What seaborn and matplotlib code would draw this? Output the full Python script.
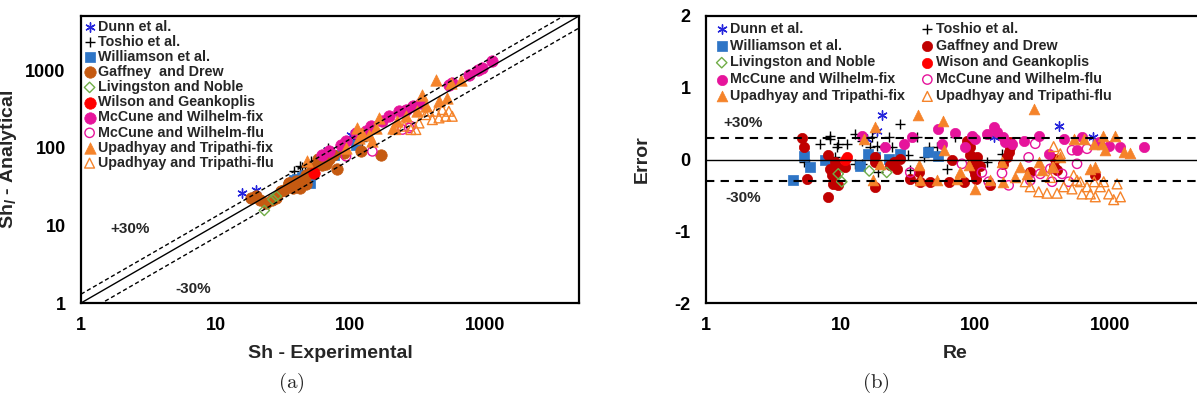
import numpy as np
import pandas as pd
import matplotlib
matplotlib.use("Agg")
import matplotlib.pyplot as plt
import seaborn as sns

# ---------------- Panel (a): Sh experimental vs Sh analytical ----------------
a_dunn_x = [15.8, 20, 68, 101, 110]
a_dunn_y = [25.8, 28.2, 95, 148, 135]
a_toshio_x = [42, 46, 51, 68, 70, 110, 123, 38, 44]
a_toshio_y = [58, 58, 67, 100, 90, 134, 122, 50, 56]
a_will_x = [50, 46, 76, 110, 40, 44, 38]
a_will_y = [35, 45, 82, 110, 40, 42, 38]
a_gaff_x = [169, 80, 66, 59, 53, 47, 42, 35, 32, 70, 18.4, 21.2, 23.7, 28.2, 30.7, 35.3,
            39.6, 47, 37.4, 20, 26, 44, 62, 75, 90, 120, 58, 50]
a_gaff_y = [82, 53, 61, 67, 55, 45, 30, 35, 29, 71, 22.7, 21.0, 19.5, 22.7, 27.6, 35.3,
            37.2, 33.7, 30.5, 23.8, 21.5, 38, 60, 80, 85, 90, 72, 48]
a_liv_x = [23, 28.2, 26.6]
a_liv_y = [15.6, 23.8, 21.6]
a_wil_x = [54]
a_wil_y = [48]
a_mcfix_x = [1133, 955, 887, 760, 569, 540, 334, 290, 259, 231, 195, 173, 142, 131, 110,
             93, 85, 62, 70]
a_mcfix_y = [1302, 1069, 1016, 878, 684, 652, 378, 343, 311, 296, 255, 220, 190, 164, 156,
             122, 110, 82, 90]
a_mcflu_x = [93, 146, 244, 274, 282]
a_mcflu_y = [78, 90, 172, 180, 190]
a_upfix_x = [431, 557, 661, 526, 456, 343, 315, 363, 259, 224, 206, 164, 155, 123, 117,
             93, 113, 138, 48, 146]
a_upfix_y = [757, 684, 757, 439, 398, 485, 296, 343, 255, 220, 180, 243, 180, 156, 134,
             100, 180, 148, 67, 122]
a_upflu_x = [572, 511, 456, 407, 363, 307, 282, 385, 431, 483, 324, 218, 251, 540]
a_upflu_y = [255, 255, 243, 231, 268, 172, 172, 296, 296, 311, 209, 172, 190, 296]

# ---------------- Panel (b): Re vs error ----------------
b_dunn_re = [20.2, 18.6, 15.7, 137, 417, 745]
b_dunn_err = [0.62, 0.40, 0.29, 0.31, 0.46, 0.32]
b_toshio_re = [5.3, 5.8, 7.0, 8.4, 8.4, 9.4, 9.6, 11.1, 9.1, 12.7, 14.4, 16.6, 17.1, 18.6,
               20.8, 19.1, 22.7, 24.0, 27.7, 26.2, 31.9, 32.9, 36.8, 41.3, 45.0, 51.9,
               61.5, 71.0, 158, 122, 12.8, 14.4]
b_toshio_err = [-0.04, -0.06, 0.21, 0.33, 0.29, 0.17, 0.21, 0.21, 0.03, 0.36, 0.26, 0.17,
                0.31, 0.19, 0.17, -0.18, 0.31, 0.17, 0.50, 0.03, 0.06, -0.14, 0.31, 0.04,
                0.17, 0.17, -0.13, 0.31, 0.08, -0.04, -0.06, -0.06]
b_will_re = [4.4, 5.3, 5.9, 7.7, 14.0, 16.1, 18.1, 22.7, 27.7, 44.2, 52.5]
b_will_err = [-0.28, 0.05, -0.11, -0.01, -0.09, 0.08, 0.04, 0.01, 0.08, 0.10, 0.05]
b_gaff_re = [5.2, 5.3, 5.6, 8.1, 8.1, 8.4, 8.7, 8.8, 9.1, 9.1, 9.4, 9.6, 10.8, 18.1, 18.1,
             18.1, 23.1, 24.7, 26.2, 27.7, 32.9, 37.9, 39.0, 45.8, 63.3, 67.0, 81.9, 86.7,
             91.8, 91.8, 94.5, 94.5, 97.2, 100, 102, 103, 109, 129, 162, 172, 177, 182,
             182, 256, 382, 393, 405, 771]
b_gaff_err = [0.30, 0.17, -0.27, 0.06, -0.52, -0.13, -0.22, -0.34, -0.20, -0.04, -0.10,
              -0.36, -0.11, 0.03, -0.04, -0.39, -0.07, -0.03, -0.13, 0.01, -0.27, -0.18,
              -0.31, -0.31, -0.31, -0.01, -0.31, 0.26, 0.17, 0.06, 0.03, -0.06, -0.15,
              -0.20, -0.27, 0.03, -0.09, -0.36, -0.06, 0.03, 0.10, 0.17, 0.24, -0.18,
              -0.11, 0.01, -0.15, -0.22]
b_liv_re = [9.6, 10.2, 16.3, 22.0]
b_liv_err = [-0.20, -0.31, -0.16, -0.18]
b_wil_re = [11.1, 10.7]
b_wil_err = [0.03, -0.01]
b_mcfix_re = [14.4, 21.4, 29.7, 33.8, 52.5, 56.5, 71.0, 84.2, 94.5, 100, 122, 137, 145,
              162, 167, 188, 229, 296, 351, 454, 570, 621, 826, 980, 1197, 1803]
b_mcfix_err = [0.33, 0.17, 0.22, 0.31, 0.43, 0.22, 0.37, 0.17, 0.33, 0.29, 0.36, 0.45, 0.38,
               0.31, 0.24, 0.22, 0.26, 0.33, 0.08, 0.29, 0.13, 0.32, 0.24, 0.19, 0.17, 0.17]
b_mcflu_re = [32.9, 79.6, 112, 126, 158, 177, 249, 256, 279, 304, 361, 372, 441, 494, 523,
              570, 676]
b_mcflu_err = [-0.18, -0.06, -0.18, -0.31, -0.19, -0.36, 0.03, -0.29, 0.22, -0.20, -0.13,
               -0.31, -0.20, -0.31, 0.13, -0.06, 0.15]
b_upfix_re = [14.8, 18.1, 17.5, 19.7, 37.5, 37.9, 39.0, 57.2, 58.2, 51.9, 73.1, 77.3, 89.2,
              100, 129, 158, 216, 271, 296, 313, 372, 428, 538, 640, 716, 779, 889, 927,
              1099, 1268, 1404, 874, 765, 162, 198, 242]
b_upfix_err = [0.29, 0.45, -0.28, -0.06, 0.62, -0.08, -0.29, 0.54, 0.13, -0.29, -0.27,
               -0.18, -0.08, -0.41, -0.29, -0.04, -0.11, 0.71, -0.04, -0.15, -0.11, 0.03,
               0.29, 0.29, -0.13, -0.11, 0.33, 0.13, 0.33, 0.10, 0.09, 0.22, 0.22, -0.31,
               -0.25, -0.20]
b_upflu_re = [382, 428, 361, 296, 341, 405, 454, 523, 570, 621, 676, 716, 779, 849, 899,
              980, 1067, 1197, 1131, 256, 235, 538, 382, 765, 604]
b_upflu_err = [0.18, 0.08, -0.25, -0.45, -0.47, -0.47, -0.38, -0.41, -0.29, -0.48, -0.38,
               -0.48, -0.52, -0.38, -0.31, -0.48, -0.56, -0.52, -0.34, -0.38, -0.31, -0.22,
               -0.11, -0.31, -0.31]

# ---------------- Styling ----------------
sns.set_theme(style="white")
plt.rcParams["font.family"] = ["Liberation Sans", "DejaVu Sans"]
plt.rcParams["font.weight"] = "bold"
plt.rcParams["axes.labelweight"] = "bold"
plt.rcParams["mathtext.fontset"] = "custom"
plt.rcParams["mathtext.rm"] = "Liberation Sans:bold"
plt.rcParams["mathtext.it"] = "Liberation Sans:italic"
plt.rcParams["mathtext.bf"] = "Liberation Sans:bold"

BLUE_D = "#2424DC"
BLUE_S = "#2E75C6"
BROWN = "#C55A11"
DRED = "#C00000"
GREEN = "#70AD47"
RED = "#FF0000"
MAG = "#E6149B"
ORG = "#F5832A"

fig = plt.figure(figsize=(11.97, 4.01), dpi=100)
W, H = 1197, 401
ax1 = fig.add_axes([81 / W, (H - 303) / H, 498 / W, 287 / H])
ax2 = fig.add_axes([706 / W, (H - 303) / H, 498 / W, 287 / H])

ast = (6, 2, 0)


def series(ax, x, y, label, marker, color, s, hollow=False, lw=1.0):
    df = pd.DataFrame({"x": x, "y": y})
    if hollow:
        sns.scatterplot(data=df, x="x", y="y", ax=ax, marker=marker, s=s,
                        facecolor="none", edgecolor=color, linewidth=lw, label=label)
    elif marker in ("+", ast):
        sns.scatterplot(data=df, x="x", y="y", ax=ax, marker=marker, s=s,
                        color=color, linewidth=lw, label=label)
    else:
        sns.scatterplot(data=df, x="x", y="y", ax=ax, marker=marker, s=s,
                        color=color, edgecolor=color, linewidth=0.5, label=label)


# Panel (a)
series(ax1, a_dunn_x, a_dunn_y, "Dunn et al.", ast, BLUE_D, 45)
series(ax1, a_toshio_x, a_toshio_y, "Toshio et al.", "+", "black", 50)
series(ax1, a_will_x, a_will_y, "Williamson et al.", "s", BLUE_S, 55)
series(ax1, a_gaff_x, a_gaff_y, "Gaffney  and Drew", "o", BROWN, 68)
series(ax1, a_liv_x, a_liv_y, "Livingston and Noble", "D", GREEN, 28, hollow=True)
series(ax1, a_wil_x, a_wil_y, "Wilson and Geankoplis", "o", RED, 68)
series(ax1, a_mcfix_x, a_mcfix_y, "McCune and Wilhelm-fix", "o", MAG, 68)
series(ax1, a_mcflu_x, a_mcflu_y, "McCune and Wilhelm-flu", "o", MAG, 45, hollow=True)
series(ax1, a_upfix_x, a_upfix_y, "Upadhyay and Tripathi-fix", "^", ORG, 68)
series(ax1, a_upflu_x, a_upflu_y, "Upadhyay and Tripathi-flu", "^", ORG, 50, hollow=True)

xr = np.array([1.0, 5000.0])
ax1.plot(xr, xr, color="black", lw=1.0, zorder=1)
ax1.plot(xr, 1.3 * xr, color="black", lw=1.0, ls=(0, (3, 2)), zorder=1)
ax1.plot(xr, 0.7 * xr, color="black", lw=1.0, ls=(0, (3, 2)), zorder=1)

ax1.set_xscale("log")
ax1.set_yscale("log")
ax1.set_xlim(1, 5000)
ax1.set_ylim(1, 5000)
ax1.set_xticks([1, 10, 100, 1000])
ax1.set_xticklabels(["1", "10", "100", "1000"])
ax1.set_yticks([1, 10, 100, 1000])
ax1.set_yticklabels(["1", "10", "100", "1000"])
ax1.set_xlabel("Sh - Experimental", fontsize=14, fontweight="bold")
ax1.set_ylabel(r"Sh$_{\mathit{l}}$ - Analytical", fontsize=14, fontweight="bold")
ax1.xaxis.set_label_coords(0.5, -0.145)
ax1.yaxis.set_label_coords(-0.125, 0.5)
ax1.text(2.3, 9.0, "+30%", fontsize=11, fontweight="bold", ha="center", va="center")
ax1.text(6.8, 1.5, "-30%", fontsize=11, fontweight="bold", ha="center", va="center")

h1, l1 = ax1.get_legend_handles_labels()
ax1.legend(h1, l1, loc="upper left", bbox_to_anchor=(0.0, 1.0), frameon=False,
           prop={"weight": "bold", "size": 10.3}, labelspacing=0.08, handlelength=0.7,
           handletextpad=0.25, borderpad=0.25, borderaxespad=0.0)

# Panel (b)
series(ax2, b_dunn_re, b_dunn_err, "Dunn et al.", ast, BLUE_D, 45)
series(ax2, b_toshio_re, b_toshio_err, "Toshio et al.", "+", "black", 50)
series(ax2, b_will_re, b_will_err, "Williamson et al.", "s", BLUE_S, 50)
series(ax2, b_gaff_re, b_gaff_err, "Gaffney and Drew", "o", DRED, 55)
series(ax2, b_liv_re, b_liv_err, "Livingston and Noble", "D", GREEN, 28, hollow=True)
series(ax2, b_wil_re, b_wil_err, "Wison and Geankoplis", "o", RED, 55)
series(ax2, b_mcfix_re, b_mcfix_err, "McCune and Wilhelm-fix", "o", MAG, 55)
series(ax2, b_mcflu_re, b_mcflu_err, "McCune and Wilhelm-flu", "o", MAG, 45, hollow=True)
series(ax2, b_upfix_re, b_upfix_err, "Upadhyay and Tripathi-fix", "^", ORG, 60)
series(ax2, b_upflu_re, b_upflu_err, "Upadhyay and Tripathi-flu", "^", ORG, 50, hollow=True)

ax2.axhline(0, color="black", lw=1.0, zorder=1)
ax2.axhline(0.3, color="black", lw=1.5, ls=(0, (4, 3)), zorder=1)
ax2.axhline(-0.3, color="black", lw=1.5, ls=(0, (4, 3)), zorder=1)

ax2.set_xscale("log")
ax2.set_xlim(1, 5000)
ax2.set_ylim(-2, 2)
ax2.set_xticks([1, 10, 100, 1000])
ax2.set_xticklabels(["1", "10", "100", "1000"])
ax2.set_yticks([-2, -1, 0, 1, 2])
ax2.set_yticklabels(["-2", "-1", "0", "1", "2"])
ax2.set_xlabel("Re", fontsize=14, fontweight="bold")
ax2.set_ylabel("Error", fontsize=14, fontweight="bold")
ax2.xaxis.set_label_coords(0.5, -0.145)
ax2.yaxis.set_label_coords(-0.11, 0.5)
ax2.text(1.88, 0.51, "+30%", fontsize=11, fontweight="bold", ha="center", va="center")
ax2.text(1.9, -0.53, "-30%", fontsize=11, fontweight="bold", ha="center", va="center")

h2, l2 = ax2.get_legend_handles_labels()
order = [0, 2, 4, 6, 8, 1, 3, 5, 7, 9]
ax2.legend([h2[i] for i in order], [l2[i] for i in order], ncol=2, loc="upper left",
           bbox_to_anchor=(0.01, 1.0), frameon=False,
           prop={"weight": "bold", "size": 10.3}, labelspacing=0.2, handlelength=0.7,
           handletextpad=0.25, borderpad=0.4, borderaxespad=0.0, columnspacing=1.2)

for ax in (ax1, ax2):
    ax.minorticks_off()
    ax.tick_params(axis="both", which="major", direction="in", length=5, width=1.2,
                   labelsize=13, color="black", labelcolor="black")
    ax.tick_params(axis="x", pad=10)
    ax.tick_params(axis="y", pad=11)
    for lab in ax.get_xticklabels() + ax.get_yticklabels():
        lab.set_fontweight("bold")
    for sp in ax.spines.values():
        sp.set_color("black")
        sp.set_linewidth(1.6)
        sp.set_visible(True)
    ax.grid(False)

fig.text(291 / W, 1 - 383 / H, r"$\mathrm{(a)}$", fontsize=15, ha="center", va="center",
         math_fontfamily="cm")
fig.text(876 / W, 1 - 383 / H, r"$\mathrm{(b)}$", fontsize=15, ha="center", va="center",
         math_fontfamily="cm")

fig.savefig("out.png", dpi=100, facecolor="white")
